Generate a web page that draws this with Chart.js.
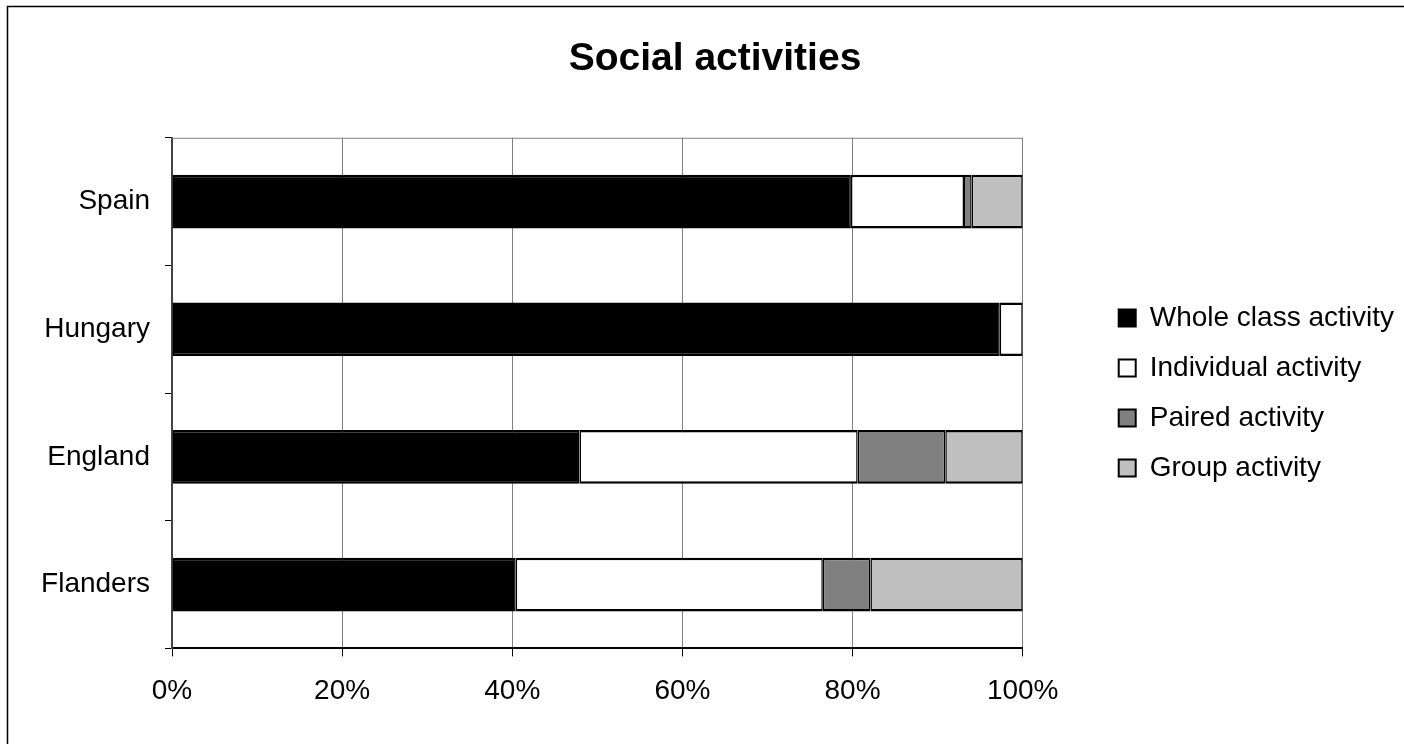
<!DOCTYPE html>
<html lang="en">
<head>
    <meta charset="UTF-8">
    <title>Social activities</title>
    <script src="https://cdn.jsdelivr.net/npm/chart.js"></script>
    <style>
        html, body { margin: 0; padding: 0; background: #fff; }
        canvas { display: block; }
    </style>
</head>
<body>
<canvas id="socialChart" width="1404" height="744"></canvas>
<script>
    const countries = ['Spain', 'Hungary', 'England', 'Flanders'];
    const wholeClass = [79.8, 97.3, 47.9, 40.4];
    const individual = [13.3, 2.7, 32.7, 36.1];
    const paired = [0.9, null, 10.3, 5.6];
    const group = [6.0, null, 9.1, 17.9];
    const xTicks = [0, 20, 40, 60, 80, 100];

    const fontFamily = "'Liberation Sans', Arial, sans-serif";
    const barBorder = { top: 2.5, bottom: 2.5, left: 1.5, right: 1.5 };

    function serie(label, values, colour) {
        return {
            label: label,
            data: values,
            backgroundColor: colour,
            borderColor: '#000',
            borderWidth: barBorder,
            borderSkipped: false,
            barPercentage: 0.42,
            categoryPercentage: 1
        };
    }

    // ramka obrazka i górna krawędź obszaru wykresu
    const frame = {
        id: 'frame',
        beforeDatasetsDraw(chart) {
            const { ctx, chartArea } = chart;
            ctx.save();
            ctx.strokeStyle = '#808080';
            ctx.lineWidth = 1;
            ctx.beginPath();
            ctx.moveTo(chartArea.left, chartArea.top + 0.5);
            ctx.lineTo(chartArea.right, chartArea.top + 0.5);
            ctx.stroke();
            ctx.restore();
        },
        afterDraw(chart) {
            const ctx = chart.ctx;
            ctx.save();
            ctx.strokeStyle = '#000';
            ctx.lineWidth = 1.5;
            ctx.strokeRect(7.5, 6.5, chart.width + 50, chart.height + 50);
            ctx.restore();
        }
    };

    new Chart(document.getElementById('socialChart'), {
        type: 'bar',
        data: {
            labels: countries,
            datasets: [
                serie('Whole class activity', wholeClass, '#000000'),
                serie('Individual activity', individual, '#ffffff'),
                serie('Paired activity', paired, '#808080'),
                serie('Group activity', group, '#c0c0c0')
            ]
        },
        options: {
            indexAxis: 'y',
            responsive: false,
            animation: false,
            devicePixelRatio: 1,
            layout: { padding: { left: 26, top: 10, right: 0, bottom: 18 } },
            scales: {
                x: {
                    stacked: true,
                    min: 0,
                    max: 100,
                    afterBuildTicks(scale) {
                        scale.ticks = xTicks.map(v => ({ value: v }));
                    },
                    ticks: {
                        color: '#000',
                        padding: 18,
                        maxRotation: 0,
                        font: { family: fontFamily, size: 28 },
                        callback: v => v + '%'
                    },
                    grid: {
                        color: '#808080',
                        lineWidth: 1,
                        tickColor: '#000',
                        tickLength: 8
                    },
                    border: { color: '#000', width: 2 }
                },
                y: {
                    stacked: true,
                    afterFit(scale) { scale.width = 146; },
                    ticks: {
                        color: '#000',
                        padding: 15,
                        font: { family: fontFamily, size: 28 }
                    },
                    grid: {
                        offset: true,
                        drawOnChartArea: false,
                        tickColor: '#000',
                        tickLength: 7
                    },
                    border: { color: '#444', width: 2 }
                },
                // pusty odstęp między wykresem a legendą
                gap: {
                    type: 'linear',
                    axis: 'y',
                    position: 'right',
                    display: false,
                    afterFit(scale) { scale.width = 74; }
                }
            },
            plugins: {
                title: {
                    display: true,
                    text: 'Social activities',
                    color: '#000',
                    font: { family: fontFamily, size: 39, weight: 'bold' },
                    padding: { top: 26, bottom: 55 }
                },
                legend: {
                    position: 'right',
                    fullSize: false,
                    labels: {
                        color: '#000',
                        boxWidth: 17,
                        boxHeight: 17,
                        padding: 22,
                        font: { family: fontFamily, size: 28 }
                    }
                },
                tooltip: { enabled: false }
            }
        },
        plugins: [frame]
    });
</script>
</body>
</html>
